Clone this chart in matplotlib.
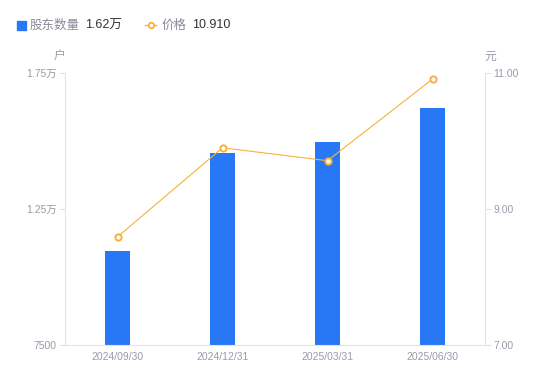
import matplotlib.pyplot as plt
from matplotlib.lines import Line2D
from matplotlib.ticker import FixedLocator

plt.rcParams['font.family'] = ['Liberation Sans', 'Noto Sans CJK SC', 'DejaVu Sans']

# 数据
dates = ['2024/09/30', '2024/12/31', '2025/03/31', '2025/06/30']
holders = [10950, 14550, 14950, 16200]
prices = [8.59, 9.90, 9.71, 10.91]

left_ticks = [7500, 12500, 17500]
left_labels = ['7500', '1.25万', '1.75万']
right_ticks = [7.0, 9.0, 11.0]
right_labels = ['7.00', '9.00', '11.00']

blue = '#2878f5'
orange = '#f7b23b'
tick_c = '#9a9aab'
axis_c = '#e3e3e8'

fig = plt.figure(figsize=(5.5, 3.81), dpi=100)
ax = fig.add_axes([65/550, 1-345/381, 420/550, 272/381])
ax2 = ax.twinx()

x = range(len(dates))
ax.bar(x, holders, width=0.24, color=blue, zorder=2)
ax.set_xlim(-0.5, len(dates)-0.5)
ax.set_ylim(7500, 17500)
ax.yaxis.set_major_locator(FixedLocator(left_ticks))
ax.set_yticklabels(left_labels)
ax.set_xticks(list(x))
ax.set_xticklabels(dates)

ax2.plot(x, prices, color=orange, lw=0.8, marker='o', ms=4.5,
         mfc='white', mec=orange, mew=1.4, zorder=3)
ax2.set_ylim(7, 11)
ax2.yaxis.set_major_locator(FixedLocator(right_ticks))
ax2.set_yticklabels(right_labels)

for a in (ax, ax2):
    for s in a.spines.values():
        s.set_visible(False)
ax.spines['left'].set_visible(True)
ax.spines['left'].set_color(axis_c)
ax.spines['bottom'].set_visible(True)
ax.spines['bottom'].set_color(axis_c)
ax2.spines['right'].set_visible(True)
ax2.spines['right'].set_color(axis_c)

ax.tick_params(axis='y', colors=axis_c, labelcolor=tick_c, labelsize=7.5,
               length=4, width=0.8, pad=2)
ax.tick_params(axis='x', length=0, labelcolor=tick_c, labelsize=7.5, pad=5)
ax2.tick_params(axis='y', colors=axis_c, labelcolor=tick_c, labelsize=7.5,
                length=4, width=0.8, pad=2)

fig.text(59/550, 1-57/381, '户', color=tick_c, fontsize=8.5, ha='center', va='center')
fig.text(490/550, 1-57/381, '元', color=tick_c, fontsize=8.5, ha='center', va='center')

# 图例
ly = 1 - 25.5/381
fig.patches.append(plt.Rectangle((17/550, 1-29.5/381), 9/550, 9/381, color=blue,
                                 transform=fig.transFigure, figure=fig))
fig.text(30/550, ly, '股东数量', color='#8a8a99', fontsize=9, va='center')
fig.text(85/550, ly, '1.62万', color='#333333', fontsize=9, va='center')
fig.lines.append(Line2D([145/550, 156/550], [1-25/381, 1-25/381], color=orange,
                        lw=1, transform=fig.transFigure))
fig.lines.append(Line2D([150.5/550], [1-25/381], color=orange, lw=0, marker='o',
                        ms=4, mfc='white', mec=orange, mew=1.3,
                        transform=fig.transFigure))
fig.text(162/550, ly, '价格', color='#8a8a99', fontsize=9, va='center')
fig.text(192/550, ly, '10.910', color='#333333', fontsize=9, va='center')

fig.savefig('out.png', dpi=100)
